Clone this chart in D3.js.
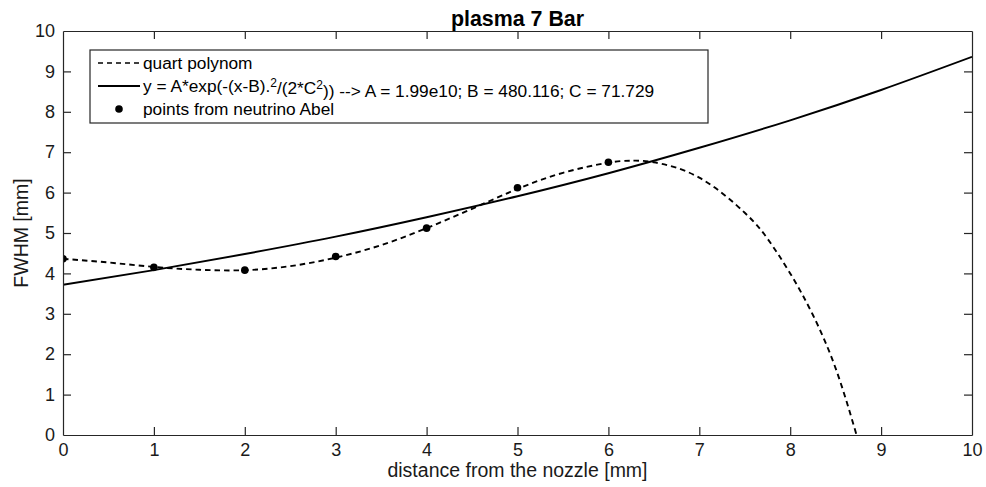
<!DOCTYPE html>
<html>
<head>
<meta charset="utf-8">
<script src="https://cdn.jsdelivr.net/npm/d3@7"></script>
<style>
  html, body { margin: 0; padding: 0; background: #ffffff; }
  svg { display: block; font-family: "Liberation Sans", Arial, Helvetica, sans-serif; }
</style>
</head>
<body>
<svg id="chart" width="986" height="487"></svg>
<script>
// ---- data ----
const xPoints = [0, 1, 2, 3, 4, 5, 6];
const abelFWHM = [4.36, 4.15, 4.08, 4.42, 5.12, 6.12, 6.75];

const xQuart = [0, 0.5, 1, 1.5, 2, 2.5, 3, 3.5, 4, 4.5, 5, 5.5, 6, 6.25, 6.5, 7, 7.5, 7.75, 8, 8.25, 8.5, 8.73];
const quartFWHM = [4.36, 4.27, 4.16, 4.09, 4.08, 4.18, 4.39, 4.70, 5.12, 5.60, 6.09, 6.49, 6.74, 6.79, 6.75, 6.37, 5.50, 4.86, 4.00, 2.97, 1.65, 0.0];

const xGauss = [0, 1, 2, 3, 4, 5, 6, 7, 8, 9, 10];
const gaussFWHM = [3.72, 4.08, 4.48, 4.91, 5.39, 5.91, 6.48, 7.11, 7.79, 8.54, 9.36];

const xTicks = [0, 1, 2, 3, 4, 5, 6, 7, 8, 9, 10];
const yTicks = [0, 1, 2, 3, 4, 5, 6, 7, 8, 9, 10];

const titleText = "plasma 7 Bar";
const xLabel = "distance from the nozzle [mm]";
const yLabel = "FWHM [mm]";
const legendLabels = ["quart polynom", "gauss", "points from neutrino Abel"];

// ---- layout ----
const W = 986, H = 487;
const margin = { left: 63, right: 14, top: 31, bottom: 52 };
const axisColor = "#262626";

const svg = d3.select("#chart");
const x = d3.scaleLinear().domain([0, 10]).range([margin.left, W - margin.right]);
const y = d3.scaleLinear().domain([0, 10]).range([H - margin.bottom, margin.top]);

svg.append("defs").append("clipPath").attr("id", "plotClip")
  .append("rect")
  .attr("x", margin.left).attr("y", margin.top)
  .attr("width", W - margin.left - margin.right)
  .attr("height", H - margin.top - margin.bottom);

const plot = svg.append("g").attr("clip-path", "url(#plotClip)");

const lineGen = d3.line().x(d => x(d[0])).y(d => y(d[1])).curve(d3.curveNatural);

// gaussian fit (solid)
plot.append("path")
  .datum(xGauss.map((v, i) => [v, gaussFWHM[i]]))
  .attr("d", lineGen)
  .attr("fill", "none").attr("stroke", "#000").attr("stroke-width", 1.9);

// quartic polynomial (dashed)
plot.append("path")
  .datum(xQuart.map((v, i) => [v, quartFWHM[i]]))
  .attr("d", lineGen)
  .attr("fill", "none").attr("stroke", "#000").attr("stroke-width", 1.9)
  .attr("stroke-dasharray", "5.5,4");

// points
plot.selectAll("circle.pt")
  .data(xPoints.map((v, i) => [v, abelFWHM[i]]))
  .enter().append("circle")
  .attr("class", "pt")
  .attr("cx", d => x(d[0])).attr("cy", d => y(d[1]))
  .attr("r", 3.8).attr("fill", "#000");

// ---- axes ----
const tickLen = 8;
const fontTick = 18;

const axB = svg.append("g").attr("transform", `translate(0,${y(0)})`)
  .call(d3.axisBottom(x).tickValues(xTicks).tickFormat(d3.format("d")).tickSizeInner(-tickLen).tickSizeOuter(0).tickPadding(8));
const axT = svg.append("g").attr("transform", `translate(0,${y(10)})`)
  .call(d3.axisTop(x).tickValues(xTicks).tickFormat("").tickSizeInner(-tickLen).tickSizeOuter(0));
const axL = svg.append("g").attr("transform", `translate(${x(0)},0)`)
  .call(d3.axisLeft(y).tickValues(yTicks).tickFormat(d3.format("d")).tickSizeInner(-tickLen).tickSizeOuter(0).tickPadding(8));
const axR = svg.append("g").attr("transform", `translate(${x(10)},0)`)
  .call(d3.axisRight(y).tickValues(yTicks).tickFormat("").tickSizeInner(-tickLen).tickSizeOuter(0));

[axB, axT, axL, axR].forEach(g => {
  g.selectAll("path.domain").attr("stroke", axisColor).attr("stroke-width", 1.2);
  g.selectAll(".tick line").attr("stroke", axisColor).attr("stroke-width", 1.2);
  g.selectAll(".tick text").attr("fill", "#1a1a1a")
    .style("font-size", fontTick + "px")
    .style("font-family", '"Liberation Sans", Arial, sans-serif');
});
[axB, axT, axL, axR].forEach(g => g.selectAll(".tick line").filter(d => d === 0 || d === 10).remove());

// ---- labels ----
svg.append("text")
  .attr("x", (x(0) + x(10)) / 2).attr("y", 26)
  .attr("text-anchor", "middle")
  .style("font-size", "21.4px").style("font-weight", "bold")
  .attr("fill", "#000")
  .text(titleText);

svg.append("text")
  .attr("x", (x(0) + x(10)) / 2).attr("y", 477)
  .attr("text-anchor", "middle")
  .style("font-size", "19.5px")
  .attr("fill", "#1a1a1a")
  .text(xLabel);

svg.append("text")
  .attr("transform", `translate(28,${(y(0) + y(10)) / 2}) rotate(-90)`)
  .attr("text-anchor", "middle")
  .style("font-size", "19.5px")
  .attr("fill", "#1a1a1a")
  .text(yLabel);

// ---- legend ----
const lg = svg.append("g");
const lgX = 90, lgY = 50, lgW = 618, lgH = 73;
lg.append("rect")
  .attr("x", lgX).attr("y", lgY).attr("width", lgW).attr("height", lgH)
  .attr("fill", "#fff").attr("stroke", axisColor).attr("stroke-width", 1.2);

const rowY = [63, 86, 109];
const sampleX0 = 98, sampleX1 = 140, textX = 143;
const legendFont = 17.3;

lg.append("line").attr("x1", sampleX0).attr("x2", sampleX1).attr("y1", rowY[0]).attr("y2", rowY[0])
  .attr("stroke", "#000").attr("stroke-width", 1.5).attr("stroke-dasharray", "5,4");
lg.append("line").attr("x1", sampleX0).attr("x2", sampleX1).attr("y1", rowY[1]).attr("y2", rowY[1])
  .attr("stroke", "#000").attr("stroke-width", 1.9);
lg.append("circle").attr("cx", (sampleX0 + sampleX1) / 2).attr("cy", rowY[2]).attr("r", 3.8).attr("fill", "#000");

lg.append("text").attr("x", textX).attr("y", rowY[0]).attr("dy", "0.35em")
  .style("font-size", legendFont + "px").attr("fill", "#000").text(legendLabels[0]);

const t1 = lg.append("text").attr("x", textX).attr("y", rowY[1]).attr("dy", "0.35em")
  .style("font-size", legendFont + "px").attr("fill", "#000");
t1.append("tspan").text("y = A*exp(-(x-B).");
t1.append("tspan").attr("dy", "-0.45em").style("font-size", "12px").text("2");
t1.append("tspan").attr("dy", "0.45em").text("/(2*C");
t1.append("tspan").attr("dy", "-0.45em").style("font-size", "12px").text("2");
t1.append("tspan").attr("dy", "0.45em").text(")) --> A = 1.99e10; B = 480.116; C = 71.729");

lg.append("text").attr("x", textX).attr("y", rowY[2]).attr("dy", "0.35em")
  .style("font-size", legendFont + "px").attr("fill", "#000").text(legendLabels[2]);
</script>
</body>
</html>
